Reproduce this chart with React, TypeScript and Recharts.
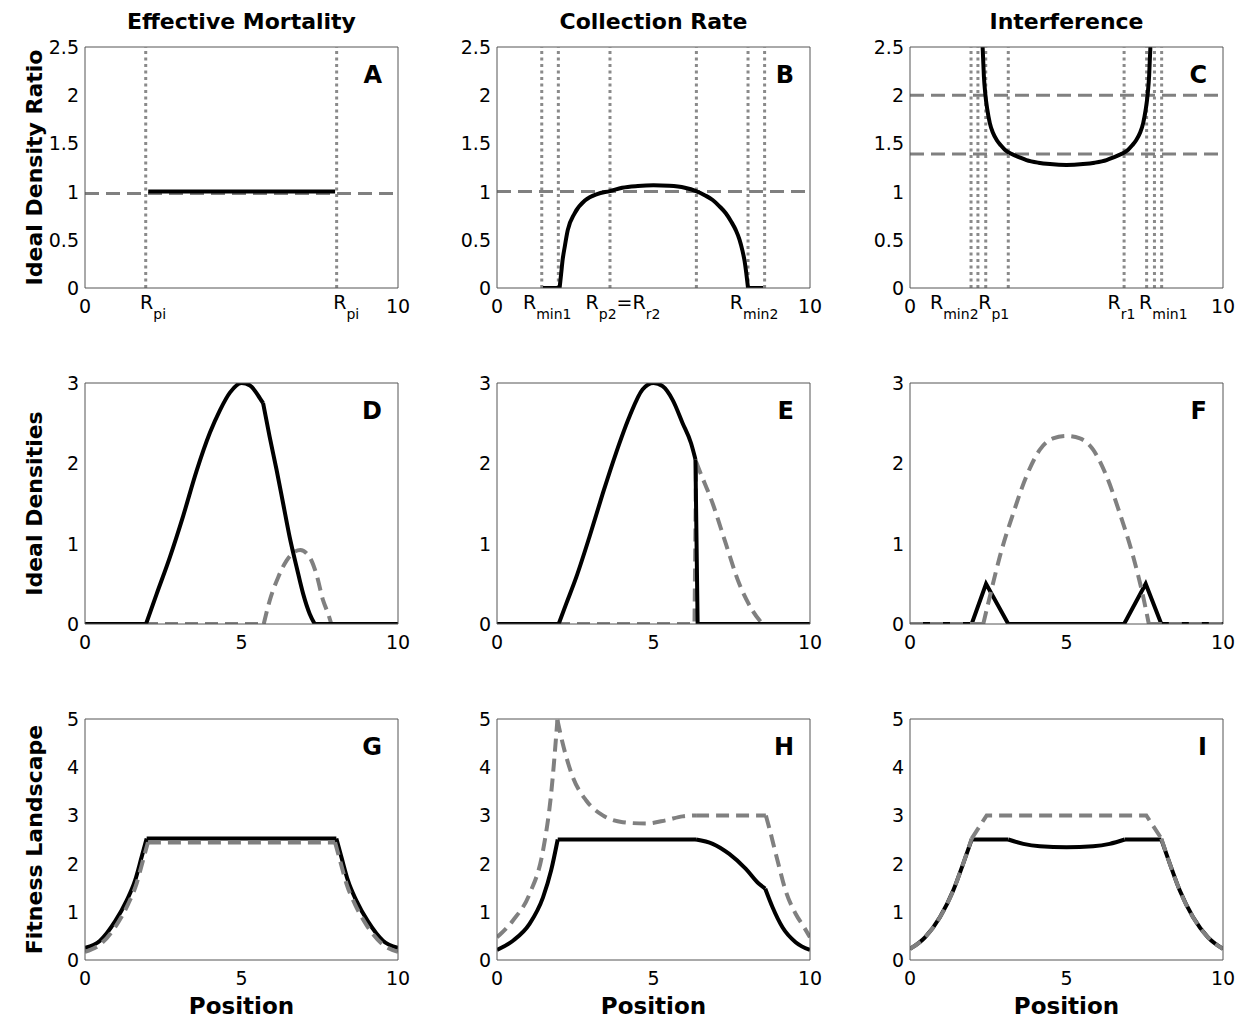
import React from 'react';
import { LineChart, Line, XAxis, YAxis, ReferenceLine } from 'recharts';

const FONT = '"DejaVu Sans", "Liberation Sans", sans-serif';
const AX = '#555555';
const GRAY = '#808080';
const DOT = '#8a8a8a';

// ---------- axis ticks ----------
const posTicks = [0, 5, 10];
const ratioTicks = [0, 0.5, 1, 1.5, 2, 2.5];
const densTicks = [0, 1, 2, 3];
const fitTicks = [0, 1, 2, 3, 4, 5];

// ---------- titles ----------
const colTitles = ['Effective Mortality', 'Collection Rate', 'Interference'];
const rowTitles = ['Ideal Density Ratio', 'Ideal Densities', 'Fitness Landscape'];
const panelLetters = ['A', 'B', 'C', 'D', 'E', 'F', 'G', 'H', 'I'];
const xTitle = 'Position';

// ---------- x tick labels (value, text segments: [text, isSubscript]) ----------
type Seg = [string, boolean];
type XLab = { v: number; segs: Seg[] };
const plainPos: XLab[] = [
  { v: 0, segs: [['0', false]] },
  { v: 5, segs: [['5', false]] },
  { v: 10, segs: [['10', false]] },
];
const aLabels: XLab[] = [
  { v: 0, segs: [['0', false]] },
  { v: 1.76, segs: [['R', false], ['pi', true]] },
  { v: 7.93, segs: [['R', false], ['pi', true]] },
  { v: 10, segs: [['10', false]] },
];
const bLabels: XLab[] = [
  { v: 0, segs: [['0', false]] },
  { v: 0.83, segs: [['R', false], ['min1', true]] },
  { v: 2.83, segs: [['R', false], ['p2', true], ['=R', false], ['r2', true]] },
  { v: 7.44, segs: [['R', false], ['min2', true]] },
  { v: 10, segs: [['10', false]] },
];
const cLabels: XLab[] = [
  { v: 0, segs: [['0', false]] },
  { v: 0.64, segs: [['R', false], ['min2', true]] },
  { v: 2.18, segs: [['R', false], ['p1', true]] },
  { v: 6.31, segs: [['R', false], ['r1', true]] },
  { v: 7.32, segs: [['R', false], ['min1', true]] },
  { v: 10, segs: [['10', false]] },
];

// ---------- reference lines ----------
const aDotted = [1.94, 8.04];
const aDashed = [0.98];
const bDotted = [1.43, 1.96, 3.61, 6.37, 8.02, 8.55];
const bDashed = [1.0];
const cDotted = [1.95, 2.17, 2.42, 3.14, 6.84, 7.56, 7.81, 8.04];
const cDashed = [2.0, 1.39];

// ---------- series (x, y) ----------
const aRatio = [[2.02, 1.0], [7.99, 1.0]];
const bRatio = [
  [1.47, 0], [2.0, 0], [2.05, 0.15], [2.1, 0.3], [2.16, 0.42], [2.26, 0.6], [2.48, 0.775],
  [2.83, 0.913], [3.2, 0.975], [3.61, 1.005], [4.0, 1.04], [4.5, 1.058], [5.0, 1.065],
  [5.5, 1.06], [6.0, 1.04], [6.36, 1.005], [6.65, 0.96], [6.89, 0.913], [7.1, 0.85],
  [7.31, 0.775], [7.48, 0.69], [7.63, 0.6], [7.75, 0.5], [7.84, 0.39], [7.91, 0.28],
  [7.95, 0.19], [8.02, 0], [8.5, 0],
];
const cRatio = [
  [2.32, 2.5], [2.36, 2.2], [2.41, 2.0], [2.47, 1.85], [2.55, 1.71], [2.65, 1.61],
  [2.77, 1.535], [2.9, 1.48], [3.03, 1.435], [3.25, 1.39], [3.5, 1.355], [3.72, 1.327],
  [4.1, 1.3], [4.47, 1.286], [5.0, 1.277], [5.53, 1.286], [5.9, 1.3], [6.28, 1.327],
  [6.5, 1.355], [6.75, 1.39], [6.97, 1.435], [7.1, 1.48], [7.23, 1.535], [7.35, 1.61],
  [7.45, 1.71], [7.53, 1.85], [7.59, 2.0], [7.64, 2.2], [7.68, 2.5],
];

const dPred = [
  [0, 0], [1.95, 0], [2.29, 0.375], [2.71, 0.83], [3.14, 1.35], [3.56, 1.9], [3.99, 2.38],
  [4.31, 2.66], [4.63, 2.88], [5.0, 3.0], [5.27, 2.97], [5.59, 2.81], [5.69, 2.75],
  [5.9, 2.33], [6.12, 1.92], [6.33, 1.5], [6.54, 1.08], [6.76, 0.71], [6.97, 0.375],
  [7.18, 0.125], [7.34, 0], [10, 0],
];
const dOther = [
  [0, 0], [5.71, 0], [5.9, 0.29], [6.17, 0.58], [6.44, 0.79], [6.7, 0.9], [6.88, 0.92],
  [7.18, 0.83], [7.39, 0.625], [7.61, 0.29], [7.77, 0.125], [7.87, 0], [10, 0],
];
const ePred = [
  [0, 0], [1.97, 0], [2.21, 0.25], [2.53, 0.58], [2.95, 1.08], [3.38, 1.625], [3.8, 2.125],
  [4.23, 2.58], [4.65, 2.92], [5.0, 3.0], [5.29, 2.96], [5.61, 2.79], [5.93, 2.5],
  [6.2, 2.25], [6.34, 2.05], [6.41, 0], [10, 0],
];
const eOther = [
  [0, 0], [6.31, 0], [6.36, 2.02], [6.46, 1.92], [6.89, 1.5], [7.31, 1.0], [7.74, 0.5],
  [8.16, 0.17], [8.48, 0], [10, 0],
];
const fPred = [
  [0, 0], [1.97, 0], [2.43, 0.5], [3.14, 0], [6.84, 0], [7.53, 0.5], [8.03, 0], [10, 0],
];
const fOther = [
  [0, 0], [2.34, 0], [2.55, 0.34], [2.87, 0.84], [3.3, 1.38], [3.72, 1.84], [4.15, 2.17],
  [4.57, 2.31], [5.0, 2.34], [5.43, 2.31], [5.85, 2.17], [6.28, 1.84], [6.7, 1.38],
  [7.13, 0.84], [7.45, 0.34], [7.63, 0], [10, 0],
];

const gPred = [
  [0, 0.25], [0.48, 0.4], [0.96, 0.8], [1.33, 1.23], [1.6, 1.65], [1.81, 2.14], [1.97, 2.52],
  [8.03, 2.52], [8.19, 2.14], [8.4, 1.65], [8.67, 1.23], [9.04, 0.8], [9.52, 0.4], [10, 0.25],
];
const gOther = [
  [0, 0.17], [0.5, 0.33], [1.0, 0.72], [1.37, 1.15], [1.64, 1.57], [1.85, 2.06], [2.01, 2.44],
  [7.99, 2.44], [8.15, 2.06], [8.36, 1.57], [8.63, 1.15], [9.0, 0.72], [9.5, 0.33], [10, 0.17],
];
const hPred = [
  [0, 0.21], [0.51, 0.4], [1.04, 0.75], [1.47, 1.3], [1.73, 1.86], [1.94, 2.5], [6.36, 2.5],
  [6.89, 2.41], [7.42, 2.2], [7.95, 1.89], [8.37, 1.58], [8.57, 1.48], [8.8, 1.1],
  [9.12, 0.68], [9.54, 0.37], [10, 0.21],
];
const hOther = [
  [0, 0.47], [0.51, 0.82], [1.04, 1.37], [1.47, 2.27], [1.73, 3.45], [1.93, 4.98], [2.1, 4.49],
  [2.42, 3.8], [2.85, 3.31], [3.38, 3.0], [4.02, 2.86], [4.76, 2.83], [5.4, 2.9], [5.93, 2.98],
  [6.36, 3.0], [8.59, 3.0], [8.69, 2.76], [8.96, 2.07], [9.22, 1.44], [9.54, 0.96],
  [9.81, 0.68], [10, 0.47],
];
const iPred = [
  [0, 0.23], [0.48, 0.47], [0.96, 0.89], [1.38, 1.44], [1.7, 2.0], [1.97, 2.5], [3.14, 2.5],
  [3.62, 2.41], [4.15, 2.36], [5.0, 2.34], [5.85, 2.36], [6.38, 2.41], [6.86, 2.5],
  [8.03, 2.5], [8.3, 2.0], [8.62, 1.44], [9.04, 0.89], [9.52, 0.47], [10, 0.23],
];
const iOther = [
  [0, 0.23], [0.48, 0.47], [0.96, 0.89], [1.38, 1.44], [1.7, 2.0], [1.97, 2.52], [2.45, 3.0],
  [7.55, 3.0], [8.03, 2.52], [8.3, 2.0], [8.62, 1.44], [9.04, 0.89], [9.52, 0.47], [10, 0.23],
];

// ---------- layout ----------
const COL_LEFT = [85, 497, 910];
const ROW_TOP = [47, 383, 719];
const PW = 313;
const PH = 241;
const YAX_W = 80;
const XAX_H = 50;
const M_TOP = 10;
const M_RIGHT = 22;

type Series = { data: number[][]; kind: 'solid' | 'dash'; smooth?: number[][] };

// split a series into pieces at the boundaries of its smooth ranges
function pieces(s: Series) {
  const ranges = s.smooth || [];
  const bounds: number[] = [];
  ranges.forEach((r) => bounds.push(r[0], r[1]));
  const out: { pts: { x: number; y: number }[]; curve: 'linear' | 'monotone' }[] = [];
  const d = s.data;
  let start = 0;
  const push = (a: number, b: number) => {
    const mid = (d[a][0] + d[b][0]) / 2;
    const sm = ranges.some((r) => mid >= r[0] && mid <= r[1]);
    out.push({ pts: d.slice(a, b + 1).map(([x, y]) => ({ x, y })), curve: sm ? 'monotone' : 'linear' });
  };
  for (let i = 1; i < d.length - 1; i++) {
    if (bounds.some((b) => Math.abs(b - d[i][0]) < 1e-9)) {
      push(start, i);
      start = i;
    }
  }
  push(start, d.length - 1);
  return out;
}

function XTick(props: any) {
  const { x, y, payload, labels } = props;
  const lab: XLab | undefined = (labels as XLab[]).find((l) => Math.abs(l.v - payload.value) < 1e-9);
  if (!lab) return null;
  if (lab.segs.length === 1) {
    return (
      <text x={x} y={y + 25} textAnchor="middle" fontSize={19} fontFamily={FONT} fill="#000">
        {lab.segs[0][0]}
      </text>
    );
  }
  let cur = false;
  const spans = lab.segs.map(([t, sub], i) => {
    const dy = sub === cur ? 0 : sub ? 10 : -10;
    cur = sub;
    return (
      <tspan key={i} dy={dy} fontSize={sub ? 14 : 19}>
        {t}
      </tspan>
    );
  });
  return (
    <text x={x} y={y + 21} textAnchor="start" fontFamily={FONT} fill="#000">
      {spans}
    </text>
  );
}

function YTick(props: any) {
  const { x, y, payload } = props;
  return (
    <text x={x - 6} y={y + 7} textAnchor="end" fontSize={19} fontFamily={FONT} fill="#000">
      {String(payload.value)}
    </text>
  );
}

type PanelProps = {
  col: number;
  row: number;
  yMax: number;
  yTicks: number[];
  xLabels: XLab[];
  xMarks: number[];
  dotted?: number[];
  dashed?: number[];
  series: Series[];
};

function Panel({ col, row, yMax, yTicks, xLabels, xMarks, dotted = [], dashed = [], series }: PanelProps) {
  const left = COL_LEFT[col] - YAX_W;
  const top = ROW_TOP[row] - M_TOP;
  const lines: React.ReactNode[] = [];
  series.forEach((s, si) => {
    pieces(s).forEach((p, pi) => {
      lines.push(
        <Line
          key={`s${si}-${pi}`}
          data={p.pts}
          dataKey="y"
          type={p.curve}
          stroke={s.kind === 'solid' ? '#000' : GRAY}
          strokeWidth={4}
          strokeDasharray={s.kind === 'dash' ? '13 7' : undefined}
          dot={false}
          activeDot={false}
          isAnimationActive={false}
        />
      );
    });
  });
  return (
    <div style={{ position: 'absolute', left, top }}>
      <LineChart
        width={YAX_W + PW + M_RIGHT}
        height={M_TOP + PH + XAX_H}
        margin={{ top: M_TOP, right: M_RIGHT, bottom: 0, left: 0 }}
      >
        <XAxis
          dataKey="x"
          type="number"
          domain={[0, 10]}
          allowDataOverflow
          ticks={xLabels.map((l) => l.v)}
          interval={0}
          tick={(p: any) => <XTick {...p} labels={xLabels} />}
          tickLine={false}
          tickSize={0}
          tickMargin={0}
          axisLine={{ stroke: AX, strokeWidth: 1 }}
          height={XAX_H}
        />
        <YAxis
          type="number"
          domain={[0, yMax]}
          allowDataOverflow
          ticks={yTicks}
          interval={0}
          tick={(p: any) => <YTick {...p} />}
          tickLine={false}
          tickSize={0}
          tickMargin={0}
          axisLine={{ stroke: AX, strokeWidth: 1 }}
          width={YAX_W}
        />
        <XAxis xAxisId="tb" type="number" domain={[0, 10]} allowDataOverflow orientation="bottom" mirror
          ticks={xMarks} interval={0} tick={false} axisLine={false} tickLine={{ stroke: AX }} tickSize={5} height={30} />
        <XAxis xAxisId="tt" type="number" domain={[0, 10]} allowDataOverflow orientation="top" mirror
          ticks={xMarks} interval={0} tick={false} axisLine={{ stroke: AX, strokeWidth: 1 }} tickLine={{ stroke: AX }} tickSize={5} height={30} />
        <YAxis yAxisId="tl" type="number" domain={[0, yMax]} allowDataOverflow orientation="left" mirror
          ticks={yTicks} interval={0} tick={false} axisLine={false} tickLine={{ stroke: AX }} tickSize={5} width={30} />
        <YAxis yAxisId="tr" type="number" domain={[0, yMax]} allowDataOverflow orientation="right" mirror
          ticks={yTicks} interval={0} tick={false} axisLine={{ stroke: AX, strokeWidth: 1 }} tickLine={{ stroke: AX }} tickSize={5} width={30} />
        {dotted.map((v, i) => (
          <ReferenceLine key={'v' + i} x={v} stroke={DOT} strokeWidth={3} strokeDasharray="3 3.5" />
        ))}
        {dashed.map((v, i) => (
          <ReferenceLine key={'h' + i} y={v} stroke={GRAY} strokeWidth={3} strokeDasharray="14 7" />
        ))}
        {lines}
      </LineChart>
    </div>
  );
}

export default function App() {
  const centers = COL_LEFT.map((l) => l + PW / 2);
  const rowCenters = ROW_TOP.map((t) => t + PH / 2);
  const LX = 42;
  return (
    <div style={{ position: 'absolute', left: 0, top: 0, width: 1246, height: 1023, background: '#fff' }}>
      <Panel col={0} row={0} yMax={2.5} yTicks={ratioTicks} xLabels={aLabels} xMarks={[0, 10]}
        dotted={aDotted} dashed={aDashed} series={[{ data: aRatio, kind: 'solid' }]} />
      <Panel col={1} row={0} yMax={2.5} yTicks={ratioTicks} xLabels={bLabels} xMarks={[0, 10]}
        dotted={bDotted} dashed={bDashed} series={[{ data: bRatio, kind: 'solid', smooth: [[2.0, 8.02]] }]} />
      <Panel col={2} row={0} yMax={2.5} yTicks={ratioTicks} xLabels={cLabels} xMarks={[0, 10]}
        dotted={cDotted} dashed={cDashed} series={[{ data: cRatio, kind: 'solid', smooth: [[2.32, 7.68]] }]} />

      <Panel col={0} row={1} yMax={3} yTicks={densTicks} xLabels={plainPos} xMarks={posTicks}
        series={[
          { data: dOther, kind: 'dash', smooth: [[5.71, 7.87]] },
          { data: dPred, kind: 'solid', smooth: [[1.95, 5.69], [5.69, 7.34]] },
        ]} />
      <Panel col={1} row={1} yMax={3} yTicks={densTicks} xLabels={plainPos} xMarks={posTicks}
        series={[
          { data: eOther, kind: 'dash', smooth: [[6.36, 8.48]] },
          { data: ePred, kind: 'solid', smooth: [[1.97, 6.34]] },
        ]} />
      <Panel col={2} row={1} yMax={3} yTicks={densTicks} xLabels={plainPos} xMarks={posTicks}
        series={[
          { data: fPred, kind: 'solid' },
          { data: fOther, kind: 'dash', smooth: [[2.34, 7.63]] },
        ]} />

      <Panel col={0} row={2} yMax={5} yTicks={fitTicks} xLabels={plainPos} xMarks={posTicks}
        series={[
          { data: gPred, kind: 'solid', smooth: [[0, 1.97], [8.03, 10]] },
          { data: gOther, kind: 'dash', smooth: [[0, 2.01], [7.99, 10]] },
        ]} />
      <Panel col={1} row={2} yMax={5} yTicks={fitTicks} xLabels={plainPos} xMarks={posTicks}
        series={[
          { data: hPred, kind: 'solid', smooth: [[0, 1.94], [6.36, 8.57], [8.57, 10]] },
          { data: hOther, kind: 'dash', smooth: [[0, 1.93], [1.93, 6.36], [8.59, 10]] },
        ]} />
      <Panel col={2} row={2} yMax={5} yTicks={fitTicks} xLabels={plainPos} xMarks={posTicks}
        series={[
          { data: iPred, kind: 'solid', smooth: [[0, 1.97], [3.14, 6.86], [8.03, 10]] },
          { data: iOther, kind: 'dash', smooth: [[0, 1.97], [8.03, 10]] },
        ]} />

      <svg width={1246} height={1023} style={{ position: 'absolute', left: 0, top: 0, pointerEvents: 'none' }}>
        {colTitles.map((t, i) => (
          <text key={'ct' + i} x={centers[i]} y={29} textAnchor="middle" fontFamily={FONT} fontWeight="bold" fontSize={22} fill="#000">
            {t}
          </text>
        ))}
        {rowTitles.map((t, i) => (
          <text key={'rt' + i} x={LX} y={rowCenters[i]} transform={`rotate(-90 ${LX} ${rowCenters[i]})`} textAnchor="middle" fontFamily={FONT} fontWeight="bold" fontSize={22} fill="#000">
            {t}
          </text>
        ))}
        {centers.map((c, i) => (
          <text key={'xt' + i} x={c} y={1014} textAnchor="middle" fontFamily={FONT} fontWeight="bold" fontSize={23} fill="#000">
            {xTitle}
          </text>
        ))}
        {panelLetters.map((l, i) => (
          <text key={'pl' + i} x={COL_LEFT[i % 3] + PW - 16} y={ROW_TOP[Math.floor(i / 3)] + 36} textAnchor="end" fontFamily={FONT} fontWeight="bold" fontSize={24} fill="#000">
            {l}
          </text>
        ))}
      </svg>
    </div>
  );
}
